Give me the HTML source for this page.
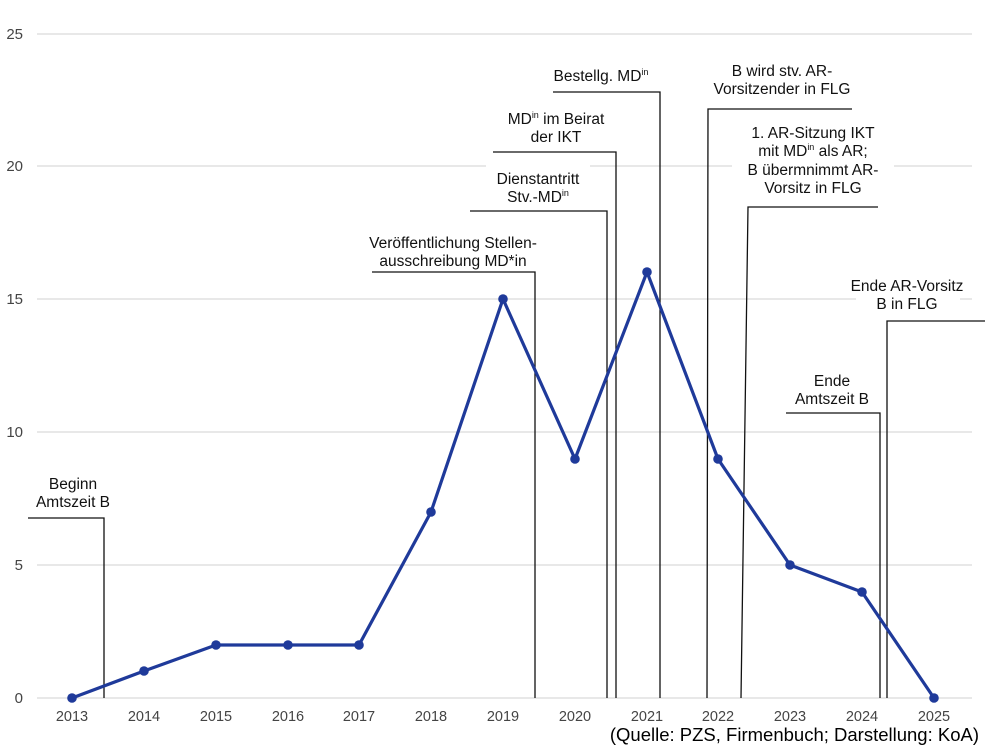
<!DOCTYPE html>
<html><head><meta charset="utf-8"><style>
html,body{margin:0;padding:0;background:#fff;}
svg{display:block;font-family:"Liberation Sans",Arial,sans-serif;}
</style></head><body>
<svg width="1000" height="748" viewBox="0 0 1000 748" xmlns="http://www.w3.org/2000/svg">
<g stroke="#d9d9d9" stroke-width="1.3">
<line x1="37" y1="34" x2="972" y2="34"/>
<line x1="37" y1="166" x2="972" y2="166"/>
<line x1="37" y1="299" x2="972" y2="299"/>
<line x1="37" y1="432" x2="972" y2="432"/>
<line x1="37" y1="565" x2="972" y2="565"/>
<line x1="37" y1="698" x2="972" y2="698"/>
</g>
<g fill="#444" font-size="15" text-anchor="end">
<text x="23" y="39">25</text>
<text x="23" y="171">20</text>
<text x="23" y="304">15</text>
<text x="23" y="437">10</text>
<text x="23" y="570">5</text>
<text x="23" y="703">0</text>
</g>
<g fill="#444" font-size="14.5" text-anchor="middle">
<text x="72" y="721">2013</text><text x="144" y="721">2014</text><text x="216" y="721">2015</text>
<text x="288" y="721">2016</text><text x="359" y="721">2017</text><text x="431" y="721">2018</text>
<text x="503" y="721">2019</text><text x="575" y="721">2020</text><text x="647" y="721">2021</text>
<text x="718" y="721">2022</text><text x="790" y="721">2023</text><text x="862" y="721">2024</text>
<text x="934" y="721">2025</text>
</g>
<g fill="#fff">
<rect x="38" y="470" width="72" height="40"/>
<rect x="362" y="228" width="182" height="40"/>
<rect x="486" y="165" width="104" height="40"/>
<rect x="500" y="104" width="112" height="40"/>
<rect x="732" y="120" width="162" height="80"/>
<rect x="856" y="272" width="104" height="40"/>
<rect x="790" y="367" width="84" height="40"/>
</g>
<g stroke="#111" stroke-width="1.3" fill="none">
<polyline points="28,518 104,518 104,698"/>
<polyline points="372,272 535,272 535,698"/>
<polyline points="470,211 607,211 607,698"/>
<polyline points="493,152 616,152 616,698"/>
<polyline points="553,92 660,92 660,698"/>
<polyline points="852,109 708,109 707,698"/>
<polyline points="878,207 748,207 741,698"/>
<polyline points="985,321 887,321 887,698"/>
<polyline points="786,413 880,413 880,698"/>
</g>
<g fill="#111" font-size="15.5" text-anchor="middle">
<text x="73" y="489">Beginn</text><text x="73" y="507">Amtszeit B</text>
<text x="453" y="248">Veröffentlichung Stellen-</text><text x="453" y="266">ausschreibung MD*in</text>
<text x="538" y="184">Dienstantritt</text><text x="538" y="202">Stv.-MD<tspan font-size="9" dy="-6">in</tspan></text>
<text x="556" y="124">MD<tspan font-size="9" dy="-6">in</tspan><tspan dy="6"> im Beirat</tspan></text><text x="556" y="142">der IKT</text>
<text x="601" y="81">Bestellg. MD<tspan font-size="9" dy="-6">in</tspan></text>
<text x="782" y="76">B wird stv. AR-</text><text x="782" y="94">Vorsitzender in FLG</text>
<text x="813" y="138">1. AR-Sitzung IKT</text>
<text x="813" y="156">mit MD<tspan font-size="9" dy="-6">in</tspan><tspan dy="6"> als AR;</tspan></text>
<text x="813" y="175">B übermnimmt AR-</text><text x="813" y="193">Vorsitz in FLG</text>
<text x="907" y="291">Ende AR-Vorsitz</text><text x="907" y="309">B in FLG</text>
<text x="832" y="386">Ende</text><text x="832" y="404">Amtszeit B</text>
</g>
<polyline fill="none" stroke="#1f3a9a" stroke-width="3.2" stroke-linejoin="round" points="72,698 144,671 216,645 288,645 359,645 431,512 503,299 575,459 647,272 718,459 790,565 862,592 934,698"/>
<g fill="#1f3a9a">
<circle cx="72" cy="698" r="4.8"/><circle cx="144" cy="671" r="4.8"/><circle cx="216" cy="645" r="4.8"/>
<circle cx="288" cy="645" r="4.8"/><circle cx="359" cy="645" r="4.8"/><circle cx="431" cy="512" r="4.8"/>
<circle cx="503" cy="299" r="4.8"/><circle cx="575" cy="459" r="4.8"/><circle cx="647" cy="272" r="4.8"/>
<circle cx="718" cy="459" r="4.8"/><circle cx="790" cy="565" r="4.8"/><circle cx="862" cy="592" r="4.8"/>
<circle cx="934" cy="698" r="4.8"/>
</g>
<text x="979" y="741" font-size="18.5" fill="#000" text-anchor="end">(Quelle: PZS, Firmenbuch; Darstellung: KoA)</text>
</svg>
</body></html>
